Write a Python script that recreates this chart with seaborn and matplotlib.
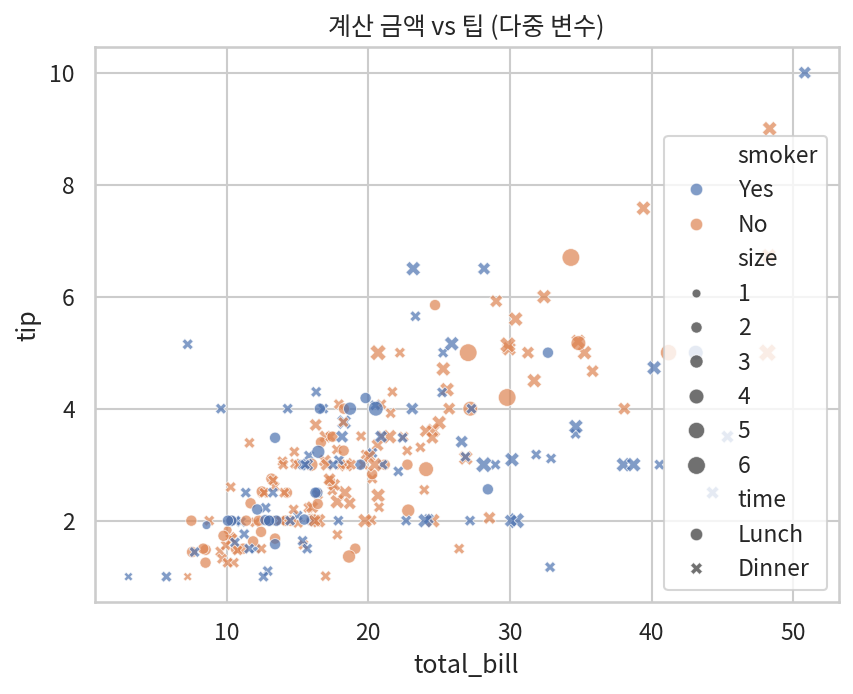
import matplotlib
matplotlib.use("Agg")
import matplotlib.pyplot as plt
import seaborn as sns
import pandas as pd

# tips data: total bill, tip, smoker, time, party size
total_bill = [
    16.99, 10.34, 21.01, 23.68, 24.59, 25.29, 8.77, 26.88, 15.04, 14.78,
    10.27, 35.26, 15.42, 18.43, 14.83, 21.58, 10.33, 16.29, 16.97, 20.65,
    17.92, 20.29, 15.77, 39.42, 19.82, 17.81, 13.37, 12.69, 21.7, 19.65,
    9.55, 18.35, 15.06, 20.69, 17.78, 24.06, 16.31, 16.93, 18.69, 31.27,
    16.04, 17.46, 13.94, 9.68, 30.4, 18.29, 22.23, 32.4, 28.55, 18.04,
    12.54, 10.29, 34.81, 9.94, 25.56, 19.49, 38.01, 26.41, 11.24, 48.27,
    20.29, 13.81, 11.02, 18.29, 17.59, 20.08, 16.45, 3.07, 20.23, 15.01,
    12.02, 17.07, 26.86, 25.28, 14.73, 10.51, 17.92, 27.2, 22.76, 17.29,
    19.44, 16.66, 10.07, 32.68, 15.98, 34.83, 13.03, 18.28, 24.71, 21.16,
    28.97, 22.49, 5.75, 16.32, 22.75, 40.17, 27.28, 12.03, 21.01, 12.46,
    11.35, 15.38, 44.3, 22.42, 20.92, 15.36, 20.49, 25.21, 18.24, 14.31,
    14.0, 7.25, 38.07, 23.95, 25.71, 17.31, 29.93, 10.65, 12.43, 24.08,
    11.69, 13.42, 14.26, 15.95, 12.48, 29.8, 8.52, 14.52, 11.38, 22.82,
    19.08, 20.27, 11.17, 12.26, 18.26, 8.51, 10.33, 14.15, 16.0, 13.16,
    17.47, 34.3, 41.19, 27.05, 16.43, 8.35, 18.64, 11.87, 9.78, 7.51,
    14.07, 13.13, 17.26, 24.55, 19.77, 29.85, 48.17, 25.0, 13.39, 16.49,
    21.5, 12.66, 16.21, 13.81, 17.51, 24.52, 20.76, 31.71, 10.59, 10.63,
    50.81, 15.81, 7.25, 31.85, 16.82, 32.9, 17.89, 14.48, 9.6, 34.63,
    34.65, 23.33, 45.35, 23.17, 40.55, 20.69, 20.9, 30.46, 18.15, 23.1,
    15.69, 19.81, 28.44, 15.48, 16.58, 7.56, 10.34, 43.11, 13.0, 13.51,
    18.71, 12.74, 13.0, 16.4, 20.53, 16.47, 26.59, 38.73, 24.27, 12.76,
    30.06, 25.89, 48.33, 13.27, 28.17, 12.9, 28.15, 11.59, 7.74, 30.14,
    12.16, 13.42, 8.58, 15.98, 13.42, 16.27, 10.09, 20.45, 13.28, 22.12,
    24.01, 15.69, 11.61, 10.77, 15.53, 10.07, 12.6, 32.83, 35.83, 29.03,
    27.18, 22.67, 17.82, 18.78,
]
tip = [
    1.01, 1.66, 3.5, 3.31, 3.61, 4.71, 2.0, 3.12, 1.96, 3.23,
    1.71, 5.0, 1.57, 3.0, 3.02, 3.92, 1.67, 3.71, 3.5, 3.35,
    4.08, 2.75, 2.23, 7.58, 3.18, 2.34, 2.0, 2.0, 4.3, 3.0,
    1.45, 2.5, 3.0, 2.45, 3.27, 3.6, 2.0, 3.07, 2.31, 5.0,
    2.24, 2.54, 3.06, 1.32, 5.6, 3.0, 5.0, 6.0, 2.05, 3.0,
    2.5, 2.6, 5.2, 1.56, 4.34, 3.51, 3.0, 1.5, 1.76, 6.73,
    3.21, 2.0, 1.98, 3.76, 2.64, 3.15, 2.47, 1.0, 2.01, 2.09,
    1.97, 3.0, 3.14, 5.0, 2.2, 1.25, 3.08, 4.0, 3.0, 2.71,
    3.0, 3.4, 1.83, 5.0, 2.03, 5.17, 2.0, 4.0, 5.85, 3.0,
    3.0, 3.5, 1.0, 4.3, 3.25, 4.73, 4.0, 1.5, 3.0, 1.5,
    2.5, 3.0, 2.5, 3.48, 4.08, 1.64, 4.06, 4.29, 3.76, 4.0,
    3.0, 1.0, 4.0, 2.55, 4.0, 3.5, 5.07, 1.5, 1.8, 2.92,
    2.31, 1.68, 2.5, 2.0, 2.52, 4.2, 1.48, 2.0, 2.0, 2.18,
    1.5, 2.83, 1.5, 2.0, 3.25, 1.25, 2.0, 2.0, 2.0, 2.75,
    3.5, 6.7, 5.0, 5.0, 2.3, 1.5, 1.36, 1.63, 1.73, 2.0,
    2.5, 2.0, 2.74, 2.0, 2.0, 5.14, 5.0, 3.75, 2.61, 2.0,
    3.5, 2.5, 2.0, 2.0, 3.0, 3.48, 2.24, 4.5, 1.61, 2.0,
    10.0, 3.16, 5.15, 3.18, 4.0, 3.11, 2.0, 2.0, 4.0, 3.55,
    3.68, 5.65, 3.5, 6.5, 3.0, 5.0, 3.5, 2.0, 3.5, 4.0,
    1.5, 4.19, 2.56, 2.02, 4.0, 1.44, 2.0, 5.0, 2.0, 2.0,
    4.0, 2.01, 2.0, 2.5, 4.0, 3.23, 3.41, 3.0, 2.03, 2.23,
    2.0, 5.16, 9.0, 2.5, 6.5, 1.1, 3.0, 1.5, 1.44, 3.09,
    2.2, 3.48, 1.92, 3.0, 1.58, 2.5, 2.0, 3.0, 2.72, 2.88,
    2.0, 3.0, 3.39, 1.47, 3.0, 1.25, 1.0, 1.17, 4.67, 5.92,
    2.0, 2.0, 1.75, 3.0,
]
# one letter per row: Y = Yes, N = No
smoker_codes = (
    "NNNNNNNNNN" "NNNNNNNNNN" "NNNNNNNNNN" "NNNNNNNNNN" "NNNNNNNNNN"
    "NNNNNNYNYN" "YYYYNNNYNY" "NNYYNNYNNN" "YNNYNNNNNN" "YNYYNYYYYN"
    "YYYYNYYYNY" "NNNNNNNNNN" "NNNNNNNNNN" "NNNNNNNNYN" "NNNNNNNNNN"
    "NNNNNNNNNN" "NNNNYNNNYY" "YYYYYYYYYY" "YYYYYNYYYY" "YYYYYNYYYY"
    "YYYYYYYYYY" "YYNYYYYYYY" "YYYNYYYNNY" "YYNNYNYYNN" "YYNN"
)
# one letter per row: L = Lunch, D = Dinner
time_codes = (
    "DDDDDDDDDD" "DDDDDDDDDD" "DDDDDDDDDD" "DDDDDDDDDD" "DDDDDDDDDD"
    "DDDDDDDDDD" "DDDDDDDDDD" "DDDDDDDLLL" "LLLLLLLLLL" "DDDDDDDDDD"
    "DDDDDDDDDD" "DDDDDDDLLL" "LLLLLLLLLL" "LLLLLLLLLL" "LLLLLLLLLL"
    "DDDDDDDDDD" "DDDDDDDDDD" "DDDDDDDDDD" "DDDDDDDDDD" "DLLLLLLLLL"
    "LLLLLLDDDD" "DDDDDDDDDD" "LLLLLLLDDD" "DDDDDDDDDD" "DDDD"
)
size = [
    2, 3, 3, 2, 4, 4, 2, 4, 2, 2,
    2, 4, 2, 4, 2, 2, 3, 3, 3, 3,
    2, 2, 2, 4, 2, 4, 2, 2, 2, 2,
    2, 4, 2, 4, 2, 3, 3, 3, 3, 3,
    3, 2, 2, 2, 4, 2, 2, 4, 3, 2,
    2, 2, 4, 2, 4, 2, 4, 2, 2, 4,
    2, 2, 2, 4, 3, 3, 2, 1, 2, 2,
    2, 3, 2, 2, 2, 2, 2, 4, 2, 2,
    2, 2, 1, 2, 2, 4, 2, 2, 2, 2,
    2, 2, 2, 2, 2, 4, 2, 2, 2, 2,
    2, 2, 3, 2, 2, 2, 2, 2, 2, 2,
    2, 1, 3, 2, 3, 2, 4, 2, 2, 4,
    2, 2, 2, 2, 2, 6, 2, 2, 2, 3,
    2, 2, 2, 2, 2, 2, 2, 2, 2, 2,
    2, 6, 5, 6, 2, 2, 3, 2, 2, 2,
    2, 2, 3, 4, 4, 5, 6, 4, 2, 4,
    4, 2, 3, 2, 2, 3, 2, 4, 2, 2,
    3, 2, 2, 2, 2, 2, 2, 2, 2, 2,
    4, 2, 3, 4, 2, 5, 3, 5, 3, 3,
    2, 2, 2, 2, 2, 2, 2, 4, 2, 2,
    3, 2, 2, 2, 4, 3, 3, 4, 2, 2,
    3, 4, 4, 2, 3, 2, 5, 2, 2, 4,
    2, 2, 1, 3, 2, 2, 2, 4, 2, 2,
    4, 3, 2, 2, 2, 2, 2, 2, 3, 3,
    2, 2, 2, 2,
]

smoker = ["Yes" if c == "Y" else "No" for c in smoker_codes]
time = ["Lunch" if c == "L" else "Dinner" for c in time_codes]

df = pd.DataFrame({
    "total_bill": total_bill,
    "tip": tip,
    "smoker": pd.Categorical(smoker, categories=["Yes", "No"]),
    "time": pd.Categorical(time, categories=["Lunch", "Dinner"]),
    "size": size,
})

sns.set_theme(style="whitegrid")
plt.rcParams["font.family"] = ["Noto Sans CJK KR", "DejaVu Sans"]
plt.rcParams["axes.unicode_minus"] = False

plt.figure(figsize=(6.4, 4.8))
sns.scatterplot(data=df, x="total_bill", y="tip", hue="smoker",
                style="time", size="size", alpha=0.7)
plt.title("계산 금액 vs 팁 (다중 변수)")
plt.legend(loc="lower right")
plt.savefig("out.png", dpi=150, bbox_inches="tight")
